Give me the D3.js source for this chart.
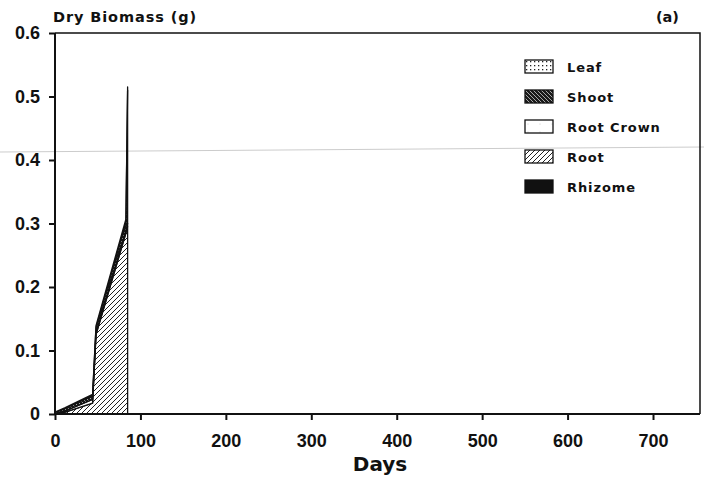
<!DOCTYPE html>
<html>
<head>
<meta charset="utf-8">
<script src="https://cdn.jsdelivr.net/npm/d3@7"></script>
<style>
  body { margin: 0; background: #fff; }
  svg { font-family: "DejaVu Sans", "Liberation Sans", Arial, sans-serif; font-weight: bold; }
</style>
</head>
<body>
<svg width="704" height="481"></svg>
<script>
// data (g dry biomass vs days)
const days      = [0,     12,    44,    48,    83,    85];
const rhizome   = [0,     0,     0,     0,     0,     0];
const root      = [0,     0.003, 0.017, 0.125, 0.285, 0.295];
const rootCrown = [0,     0.002, 0.006, 0.003, 0.005, 0.005];
const shoot     = [0.002, 0.004, 0.006, 0.008, 0.012, 0.21];
const leaf      = [0.001, 0.001, 0.002, 0.003, 0.005, 0.005];

const seriesNames = ["Leaf", "Shoot", "Root Crown", "Root", "Rhizome"];
const xTicks = [0, 100, 200, 300, 400, 500, 600, 700];
const yTicks = [0, 0.1, 0.2, 0.3, 0.4, 0.5, 0.6];

const svg = d3.select("svg");
const margin = {left: 55, right: 4, top: 33, bottom: 67};
const width = 704, height = 481;
const font = "'DejaVu Sans', 'Liberation Sans', Arial, sans-serif";
const tickFont = "'Liberation Sans', Arial, sans-serif";

const x = d3.scaleLinear().domain([0, 755]).range([margin.left, width - margin.right]);
const y = d3.scaleLinear().domain([0, 0.6]).range([height - margin.bottom, margin.top]);

// patterns
const defs = svg.append("defs");
const pLeaf = defs.append("pattern").attr("id", "pLeaf").attr("patternUnits", "userSpaceOnUse")
  .attr("width", 4).attr("height", 4);
pLeaf.append("rect").attr("width", 4).attr("height", 4).attr("fill", "#fff");
pLeaf.append("rect").attr("x", 1).attr("y", 1).attr("width", 1.3).attr("height", 1.3).attr("fill", "#222");

const pShoot = defs.append("pattern").attr("id", "pShoot").attr("patternUnits", "userSpaceOnUse")
  .attr("width", 4).attr("height", 4);
pShoot.append("rect").attr("width", 4).attr("height", 4).attr("fill", "#1a1a1a");
pShoot.append("path").attr("d", "M-1,-1 L5,5 M3,-1 L5,1 M-1,3 L1,5").attr("stroke", "#ccc").attr("stroke-width", 0.8);

const pCrown = defs.append("pattern").attr("id", "pCrown").attr("patternUnits", "userSpaceOnUse")
  .attr("width", 12).attr("height", 8);
pCrown.append("rect").attr("width", 12).attr("height", 8).attr("fill", "#fff");
pCrown.append("circle").attr("cx", 3).attr("cy", 4).attr("r", 0.5).attr("fill", "#bbb");

const pRoot = defs.append("pattern").attr("id", "pRoot").attr("patternUnits", "userSpaceOnUse")
  .attr("width", 5).attr("height", 5);
pRoot.append("rect").attr("width", 5).attr("height", 5).attr("fill", "#fff");
pRoot.append("path").attr("d", "M-1,6 L6,-1 M-1,1 L1,-1 M4,6 L6,4").attr("stroke", "#222").attr("stroke-width", 1);

const fills = {
  "Leaf": "url(#pLeaf)",
  "Shoot": "url(#pShoot)",
  "Root Crown": "url(#pCrown)",
  "Root": "url(#pRoot)",
  "Rhizome": "#111"
};

// faint scan line across the page
svg.append("line")
  .attr("x1", 0).attr("y1", 152).attr("x2", width).attr("y2", 147)
  .attr("stroke", "#ccc").attr("stroke-width", 1);

// stacked areas, bottom to top
const table = days.map((d, i) => ({
  day: d, "Rhizome": rhizome[i], "Root": root[i], "Root Crown": rootCrown[i],
  "Shoot": shoot[i], "Leaf": leaf[i]
}));
const stack = d3.stack().keys(["Rhizome", "Root", "Root Crown", "Shoot", "Leaf"]);
const layers = stack(table);

const area = d3.area()
  .x(d => x(d.data.day))
  .y0(d => y(d[0]))
  .y1(d => y(d[1]));

svg.append("g").selectAll("path")
  .data(layers)
  .join("path")
    .attr("d", area)
    .attr("fill", d => fills[d.key])
    .attr("stroke", "#111")
    .attr("stroke-width", 1.3)
    .attr("stroke-linejoin", "round");

// axes
const xAxis = svg.append("g")
  .attr("transform", `translate(0,${y(0)})`)
  .call(d3.axisBottom(x).tickValues(xTicks).tickSize(6).tickPadding(14).tickFormat(d3.format("d")));
const yAxis = svg.append("g")
  .attr("transform", `translate(${margin.left},0)`)
  .call(d3.axisLeft(y).tickValues(yTicks).tickSize(6).tickPadding(9)
    .tickFormat(d => d === 0 ? "0" : d3.format(".1f")(d)));

[xAxis, yAxis].forEach(a => {
  a.select(".domain").attr("stroke", "#111").attr("stroke-width", 2);
  a.selectAll(".tick line").attr("stroke", "#111").attr("stroke-width", 2);
  a.selectAll(".tick text").attr("fill", "#111").style("font-size", "18px")
    .style("font-family", tickFont).style("font-weight", "bold");
});
xAxis.select(".domain").attr("d", `M${x(0)},0H${width - margin.right}`);
yAxis.select(".domain").attr("d", `M0,${y(0)}V${margin.top}`);

// frame top and right
svg.append("path")
  .attr("d", `M${margin.left},${margin.top}H${width - margin.right}V${y(0)}`)
  .attr("fill", "none").attr("stroke", "#111").attr("stroke-width", 1.5);

// titles
svg.append("text").attr("x", 53).attr("y", 22).text("Dry Biomass (g)")
  .style("font-size", "14.5px").style("letter-spacing", "0.9px").attr("fill", "#111");
svg.append("text").attr("x", 679).attr("y", 22).attr("text-anchor", "end").text("(a)")
  .style("font-size", "14.5px").attr("fill", "#111");
svg.append("text").attr("x", 380).attr("y", 471).attr("text-anchor", "middle").text("Days")
  .style("font-size", "20px").attr("fill", "#111");

// legend
const legend = svg.append("g").attr("transform", "translate(525,60)");
const item = legend.selectAll("g")
  .data(seriesNames)
  .join("g")
    .attr("transform", (d, i) => `translate(0,${i * 30})`);
item.append("rect")
  .attr("width", 28).attr("height", 13)
  .attr("fill", d => fills[d])
  .attr("stroke", "#111").attr("stroke-width", 1.3);
item.append("text")
  .attr("x", 42).attr("y", 12)
  .text(d => d)
  .style("font-size", "13px").style("letter-spacing", "0.9px").attr("fill", "#111");
</script>
</body>
</html>
